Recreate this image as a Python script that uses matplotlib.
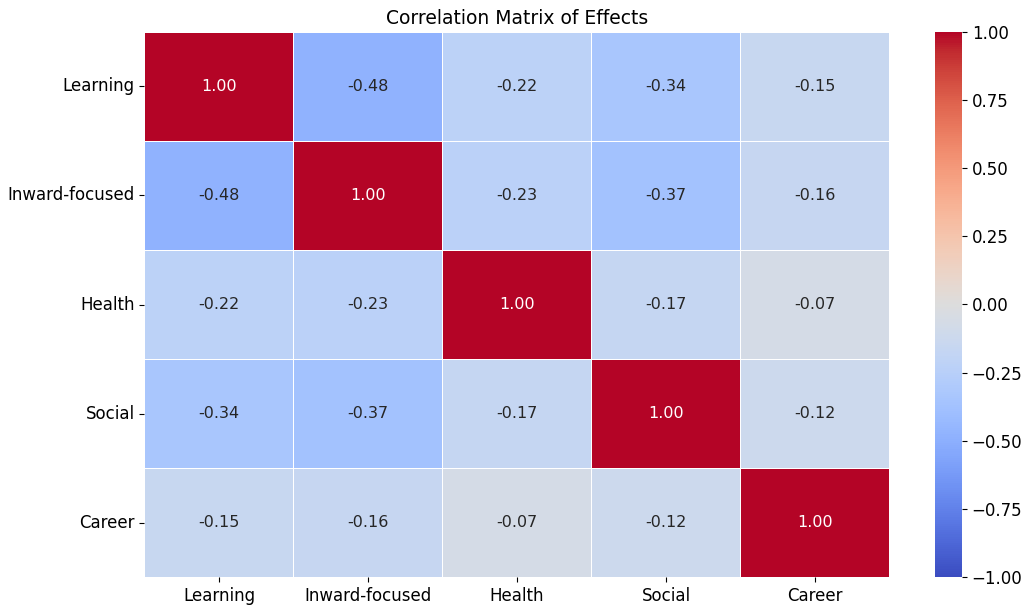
import numpy as np
import pandas as pd
import matplotlib
matplotlib.use("Agg")
import matplotlib.pyplot as plt
import seaborn as sns

effects = ["Learning", "Inward-focused", "Health", "Social", "Career"]
corr_values = [
    [1.00, -0.48, -0.22, -0.34, -0.15],
    [-0.48, 1.00, -0.23, -0.37, -0.16],
    [-0.22, -0.23, 1.00, -0.17, -0.07],
    [-0.34, -0.37, -0.17, 1.00, -0.12],
    [-0.15, -0.16, -0.07, -0.12, 1.00],
]

corr = pd.DataFrame(corr_values, index=effects, columns=effects)

fig = plt.figure(figsize=(10.31, 6.09), dpi=100)
ax = fig.add_axes([0.1401, 0.0525, 0.7226, 0.895])
cax = fig.add_axes([0.907, 0.0525, 0.026, 0.895])

sns.heatmap(corr, annot=True, fmt=".2f", cmap="coolwarm", vmin=-1, vmax=1,
            linewidths=0.7, linecolor="white", ax=ax, cbar_ax=cax,
            annot_kws={"fontsize": 11.5})

ax.set_title("Correlation Matrix of Effects", fontsize=13.5)
ax.tick_params(axis="both", labelsize=12)
plt.setp(ax.get_yticklabels(), rotation=0)
plt.setp(ax.get_xticklabels(), rotation=0)
cax.tick_params(labelsize=12)

fig.savefig("out.png", dpi=100)
